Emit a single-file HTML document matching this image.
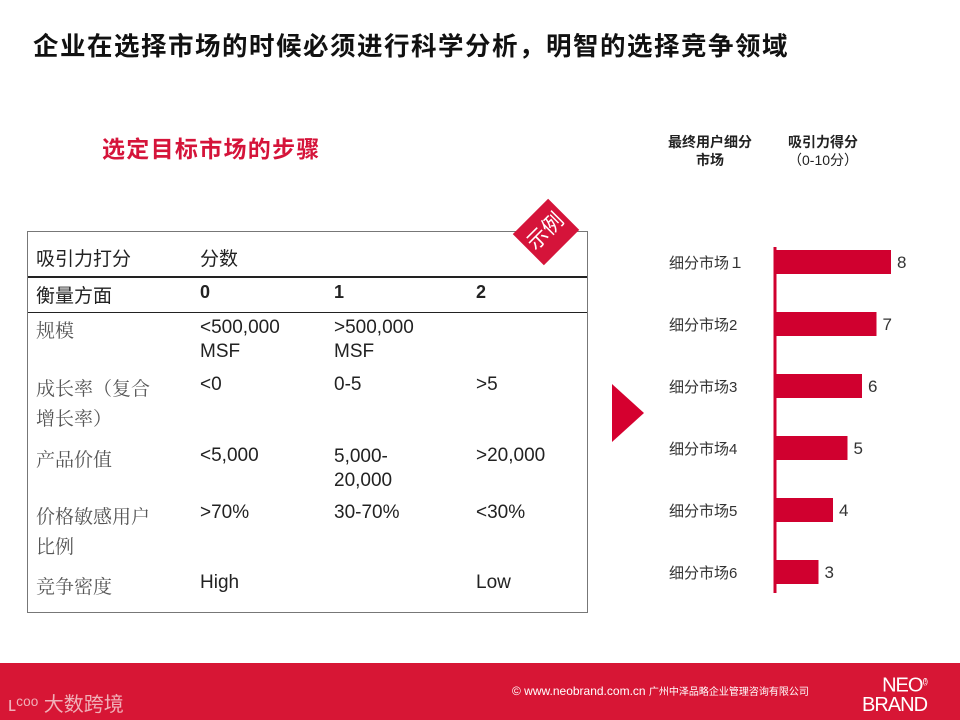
<!DOCTYPE html>
<html><head><meta charset="utf-8"><style>
body{margin:0;width:960px;height:720px;overflow:hidden;background:#fff;font-family:"Liberation Sans","Noto Sans CJK SC",sans-serif;position:relative}
.a{position:absolute;white-space:nowrap}
.t{font-size:19px;color:#222}
.cn{font-family:"Noto Serif CJK SC","Noto Sans CJK SC",serif;color:#555;font-size:19px}
</style></head><body>
<div class="a" style="left:33px;top:26px;font-size:25.5px;font-weight:bold;color:#111;letter-spacing:1.5px">企业在选择市场的时候必须进行科学分析，明智的选择竞争领域</div>
<div class="a" style="left:102px;top:130px;font-size:23px;font-weight:bold;color:#d5143a;letter-spacing:1.3px">选定目标市场的步骤</div>

<div class="a" style="left:27px;top:231px;width:559px;height:380px;border:1px solid #777"></div>
<div class="a" style="left:28px;top:276px;width:559px;height:2px;background:#222"></div>
<div class="a" style="left:28px;top:312px;width:559px;height:1px;background:#222"></div>
<div class="a t" style="left:36px;top:244px">吸引力打分</div>
<div class="a t" style="left:200px;top:244px">分数</div>
<div class="a t" style="left:36px;top:281px">衡量方面</div>
<div class="a t" style="left:200px;top:282px;font-weight:bold;font-size:18px">0</div>
<div class="a t" style="left:334px;top:282px;font-weight:bold;font-size:18px">1</div>
<div class="a t" style="left:476px;top:282px;font-weight:bold;font-size:18px">2</div>

<div class="a cn" style="left:36px;top:316px">规模</div>
<div class="a t" style="left:200px;top:316px;line-height:24px">&lt;500,000<br>MSF</div>
<div class="a t" style="left:334px;top:316px;line-height:24px">&gt;500,000<br>MSF</div>

<div class="a cn" style="left:36px;top:373px;line-height:30px">成长率（复合<br>增长率）</div>
<div class="a t" style="left:200px;top:374px">&lt;0</div>
<div class="a t" style="left:334px;top:374px">0-5</div>
<div class="a t" style="left:476px;top:374px">&gt;5</div>

<div class="a cn" style="left:36px;top:445px">产品价值</div>
<div class="a t" style="left:200px;top:445px">&lt;5,000</div>
<div class="a t" style="left:334px;top:445px;line-height:24px">5,000-<br>20,000</div>
<div class="a t" style="left:476px;top:445px">&gt;20,000</div>

<div class="a cn" style="left:36px;top:501px;line-height:30px">价格敏感用户<br>比例</div>
<div class="a t" style="left:200px;top:502px">&gt;70%</div>
<div class="a t" style="left:334px;top:502px">30-70%</div>
<div class="a t" style="left:476px;top:502px">&lt;30%</div>

<div class="a cn" style="left:36px;top:572px">竞争密度</div>
<div class="a t" style="left:200px;top:572px">High</div>
<div class="a t" style="left:476px;top:572px">Low</div>

<div class="a" style="left:521px;top:210px;width:50px;height:44px;background:#d5143a;transform:rotate(-45deg);color:#fff;font-size:21px;text-align:center;line-height:44px">示例</div>

<svg class="a" style="left:0;top:0" width="960" height="720">
<polygon points="612,384 644,413 612,442" fill="#d5002f"/>
<g id="chart"></g>
</svg>
<div class="a" style="left:668px;top:133px;font-size:14px;font-weight:bold;text-align:center;line-height:18px;color:#222">最终用户细分<br>市场</div>
<div class="a" style="left:788px;top:133px;font-size:14px;text-align:center;line-height:18px;color:#222"><b>吸引力得分</b><br>（0-10分）</div>

<div class="a" style="left:0;top:663px;width:960px;height:57px;background:#d71635"></div>
<div class="a" style="left:8px;top:688px;font-size:20px;color:#f0b0b8">ʟᶜᵒᵒ 大数跨境</div>
<div class="a" style="left:512px;top:683px;font-size:12px;color:#fff">© www.neobrand.com.cn <span style="font-size:10px">广州中泽品略企业管理咨询有限公司</span></div>
<div class="a" style="left:862px;top:672px;font-size:20px;line-height:19px;color:#fff;text-align:right;letter-spacing:-1px">NEO<sup style="font-size:8px">(!)</sup><br>BRAND</div>

<script>
const categories=["细分市场１","细分市场2","细分市场3","细分市场4","细分市场5","细分市场6"];
const scores=[8,7,6,5,4,3];
const ns="http://www.w3.org/2000/svg";
const g=document.getElementById("chart");
const x0=775,unit=14.5,yTop=250,step=62,barH=24;
const xs=v=>x0+v*unit, ys=i=>yTop+i*step;
function mk(tag,attrs){const e=document.createElementNS(ns,tag);for(const k in attrs)e.setAttribute(k,attrs[k]);g.appendChild(e);return e;}
categories.forEach((c,i)=>{
  const r=mk("rect",{x:x0,y:ys(i),width:xs(scores[i])-x0,height:barH,fill:"#d0002f"});
  
  
  const v=mk("text",{x:xs(scores[i])+6,y:ys(i)+18,"font-size":17,fill:"#333","font-family":"Liberation Sans"});
  v.textContent=scores[i];
  
  
  const l=mk("text",{x:669,y:ys(i)+18,"font-size":15,fill:"#333","font-family":"Liberation Sans, Noto Sans CJK SC, sans-serif"});
  l.textContent=c;
  
  
});
const ax=mk("line",{x1:x0,y1:247,x2:x0,y2:ys(categories.length-1)+barH+9,stroke:"#d0002f","stroke-width":3});


</script>
</body></html>
